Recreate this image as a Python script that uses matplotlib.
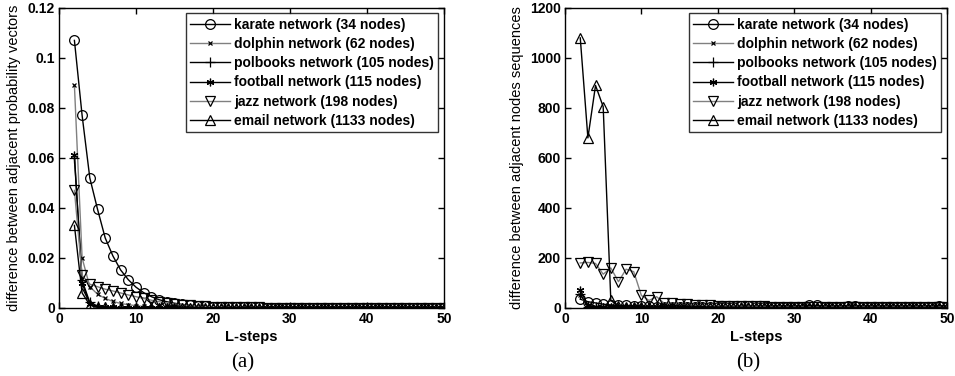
import matplotlib
matplotlib.use("Agg")
import matplotlib.pyplot as plt
import numpy as np

plt.rcParams['font.family'] = ['Liberation Sans', 'DejaVu Sans']
plt.rcParams['font.weight'] = 'bold'

steps = list(range(2, 51))

names = ["karate network (34 nodes)", "dolphin network (62 nodes)",
         "polbooks network (105 nodes)", "football network (115 nodes)",
         "jazz network (198 nodes)", "email network (1133 nodes)"]

# (a) difference between adjacent probability vectors
karate_a = [0.107, 0.077, 0.052, 0.0395, 0.028, 0.0208, 0.0152, 0.0113, 0.0083, 0.0061,
            0.0045, 0.0033, 0.0025, 0.0019, 0.0014, 0.0011, 0.0008, 0.0006, 0.0005, 0.0004,
            0.0003, 0.0003, 0.0002, 0.0002, 0.0002, 0.0001, 0.0001, 0.0001, 0.0001, 0.0001,
            0.0001, 0.0001, 0.0001, 0.0001, 0.0001, 0.0001, 0.0001, 0.0001, 0.0001, 0.0001,
            0.0001, 0.0001, 0.0001, 0.0001, 0.0001, 0.0001, 0.0001, 0.0001, 0.0001]
dolphin_a = [0.089, 0.020, 0.0085, 0.0055, 0.0038, 0.0026, 0.0018, 0.0013, 0.0009, 0.0006,
             0.0004, 0.0003, 0.0002, 0.0002, 0.0001, 0.0001, 0.0001, 0.0001, 0.0001, 0.0001,
             0.0001, 0.0001, 0.0001, 0.0001, 0.0001, 0.0001, 0.0001, 0.0001, 0.0001, 0.0001,
             0.0001, 0.0001, 0.0001, 0.0001, 0.0001, 0.0001, 0.0001, 0.0001, 0.0001, 0.0001,
             0.0001, 0.0001, 0.0001, 0.0001, 0.0001, 0.0001, 0.0001, 0.0001, 0.0001]
polbooks_a = [0.060, 0.011, 0.0022, 0.0008, 0.0004, 0.0002, 0.0001, 0.0001, 0.0001, 0.0001,
              0.0001, 0.0001, 0.0001, 0.0001, 0.0001, 0.0001, 0.0001, 0.0001, 0.0001, 0.0001,
              0.0001, 0.0001, 0.0001, 0.0001, 0.0001, 0.0001, 0.0001, 0.0001, 0.0001, 0.0001,
              0.0001, 0.0001, 0.0001, 0.0001, 0.0001, 0.0001, 0.0001, 0.0001, 0.0001, 0.0001,
              0.0001, 0.0001, 0.0001, 0.0001, 0.0001, 0.0001, 0.0001, 0.0001, 0.0001]
football_a = [0.061, 0.010, 0.0015, 0.0005, 0.0003, 0.0002, 0.0001, 0.0001, 0.0001, 0.0001,
              0.0001, 0.0001, 0.0001, 0.0001, 0.0001, 0.0001, 0.0001, 0.0001, 0.0001, 0.0001,
              0.0001, 0.0001, 0.0001, 0.0001, 0.0001, 0.0001, 0.0001, 0.0001, 0.0001, 0.0001,
              0.0001, 0.0001, 0.0001, 0.0001, 0.0001, 0.0001, 0.0001, 0.0001, 0.0001, 0.0001,
              0.0001, 0.0001, 0.0001, 0.0001, 0.0001, 0.0001, 0.0001, 0.0001, 0.0001]
jazz_a = [0.047, 0.013, 0.0095, 0.0085, 0.0075, 0.0068, 0.0060, 0.0052, 0.0045, 0.0038,
          0.0031, 0.0025, 0.0020, 0.0016, 0.0012, 0.0010, 0.0008, 0.0006, 0.0005, 0.0004,
          0.0003, 0.0003, 0.0002, 0.0002, 0.0002, 0.0001, 0.0001, 0.0001, 0.0001, 0.0001,
          0.0001, 0.0001, 0.0001, 0.0001, 0.0001, 0.0001, 0.0001, 0.0001, 0.0001, 0.0001,
          0.0001, 0.0001, 0.0001, 0.0001, 0.0001, 0.0001, 0.0001, 0.0001, 0.0001]
email_a = [0.033, 0.006, 0.0012, 0.0004, 0.0002, 0.0001, 0.0001, 0.0001, 0.0001, 0.0001,
           0.0001, 0.0001, 0.0001, 0.0001, 0.0001, 0.0001, 0.0001, 0.0001, 0.0001, 0.0001,
           0.0001, 0.0001, 0.0001, 0.0001, 0.0001, 0.0001, 0.0001, 0.0001, 0.0001, 0.0001,
           0.0001, 0.0001, 0.0001, 0.0001, 0.0001, 0.0001, 0.0001, 0.0001, 0.0001, 0.0001,
           0.0001, 0.0001, 0.0001, 0.0001, 0.0001, 0.0001, 0.0001, 0.0001, 0.0001]

# (b) difference between adjacent nodes sequences
karate_b = [35, 25, 20, 15, 12, 10, 10, 8, 7, 6,
            5, 5, 4, 4, 4, 4, 3, 3, 3, 3,
            4, 8, 8, 4, 3, 3, 3, 3, 3, 4,
            10, 10, 4, 3, 3, 6, 6, 3, 3, 3,
            3, 3, 3, 3, 3, 3, 3, 8, 3]
dolphin_b = [50, 8, 4, 3, 2, 2, 2, 2, 2, 2,
             2, 2, 2, 2, 2, 2, 2, 2, 2, 2,
             2, 2, 2, 2, 2, 2, 2, 2, 2, 2,
             2, 2, 2, 2, 2, 2, 2, 2, 2, 2,
             2, 2, 2, 2, 2, 2, 2, 2, 2]
polbooks_b = [55, 5, 2, 1, 1, 1, 1, 1, 1, 1,
              1, 1, 1, 1, 1, 1, 1, 1, 1, 1,
              1, 1, 1, 1, 1, 1, 1, 1, 1, 1,
              1, 1, 1, 1, 1, 1, 1, 1, 1, 1,
              1, 1, 1, 1, 1, 1, 1, 1, 1]
football_b = [70, 12, 3, 2, 2, 2, 2, 2, 2, 2,
              2, 2, 2, 2, 2, 2, 2, 2, 2, 2,
              2, 2, 2, 2, 2, 2, 2, 2, 2, 2,
              2, 2, 2, 2, 2, 2, 2, 2, 2, 2,
              2, 2, 2, 2, 2, 2, 2, 2, 2]
jazz_b = [180, 182, 178, 135, 160, 105, 155, 145, 50, 30,
          45, 18, 20, 15, 14, 12, 11, 10, 9, 8,
          8, 7, 7, 6, 6, 5, 5, 5, 5, 5,
          5, 5, 5, 5, 5, 5, 5, 5, 5, 5,
          5, 5, 5, 5, 5, 5, 5, 5, 5]
email_b = [1080, 680, 890, 805, 30, 8, 5, 4, 3, 3,
           3, 3, 3, 3, 3, 3, 3, 3, 3, 3,
           3, 3, 3, 3, 3, 3, 3, 3, 3, 3,
           3, 3, 3, 3, 3, 3, 3, 3, 3, 3,
           3, 3, 3, 3, 3, 3, 3, 3, 3]

# marker, marker size, line colour per network
markers = ['o', 'x', '+', (6, 2, 0), 'v', '^']
marker_sizes = [7, 3.5, 7, 5.5, 7.5, 7.5]
line_colors = ['black', '#808080', 'black', 'black', '#808080', 'black']

fig = plt.figure(figsize=(9.55, 3.76), dpi=100)
ax_a = fig.add_axes([0.0618, 0.181, 0.403, 0.798])
ax_b = fig.add_axes([0.5916, 0.181, 0.400, 0.798])


def draw(ax, series, ymax, yticks, yticklabels, ylabel, label_x):
    for vals, m, ms, c, name in zip(series, markers, marker_sizes, line_colors, names):
        ax.plot(steps, vals, color=c, lw=1.0, marker=m, markersize=ms,
                markerfacecolor='none', markeredgecolor='black',
                markeredgewidth=0.9, label=name)
    ax.set_xlim(0, 50)
    ax.set_ylim(0, ymax)
    ax.set_xticks([0, 10, 20, 30, 40, 50])
    ax.set_yticks(yticks)
    ax.set_yticklabels(yticklabels)
    ax.tick_params(direction='in', top=True, right=True, length=4,
                   width=1.0, labelsize=10, pad=3)
    for lbl in ax.get_xticklabels() + ax.get_yticklabels():
        lbl.set_fontweight('bold')
    for sp in ax.spines.values():
        sp.set_linewidth(1.0)
    ax.set_xlabel('L-steps', fontsize=10.5, fontweight='bold', labelpad=3)
    ax.set_ylabel(ylabel, fontsize=10.5, fontweight='normal')
    ax.yaxis.set_label_coords(label_x, 0.5)
    leg = ax.legend(loc='upper right', fontsize=10, frameon=True, fancybox=False,
                    handlelength=2.9, handletextpad=0.3, labelspacing=0.38,
                    borderpad=0.3, borderaxespad=0.4, edgecolor='black')
    leg.get_frame().set_linewidth(1.0)
    for t in leg.get_texts():
        t.set_fontweight('bold')


draw(ax_a, [karate_a, dolphin_a, polbooks_a, football_a, jazz_a, email_a],
     0.12, [0, 0.02, 0.04, 0.06, 0.08, 0.1, 0.12],
     ['0', '0.02', '0.04', '0.06', '0.08', '0.1', '0.12'],
     'difference between adjacent probability vectors', -0.098)
draw(ax_b, [karate_b, dolphin_b, polbooks_b, football_b, jazz_b, email_b],
     1200, [0, 200, 400, 600, 800, 1000, 1200],
     ['0', '200', '400', '600', '800', '1000', '1200'],
     'difference between adjacent nodes sequences', -0.107)

fig.text(0.2545, 0.036, '(a)', family='Liberation Serif', fontsize=15,
         fontweight='normal', ha='center', va='center')
fig.text(0.7834, 0.036, '(b)', family='Liberation Serif', fontsize=15,
         fontweight='normal', ha='center', va='center')

fig.savefig('out.png', dpi=100)
